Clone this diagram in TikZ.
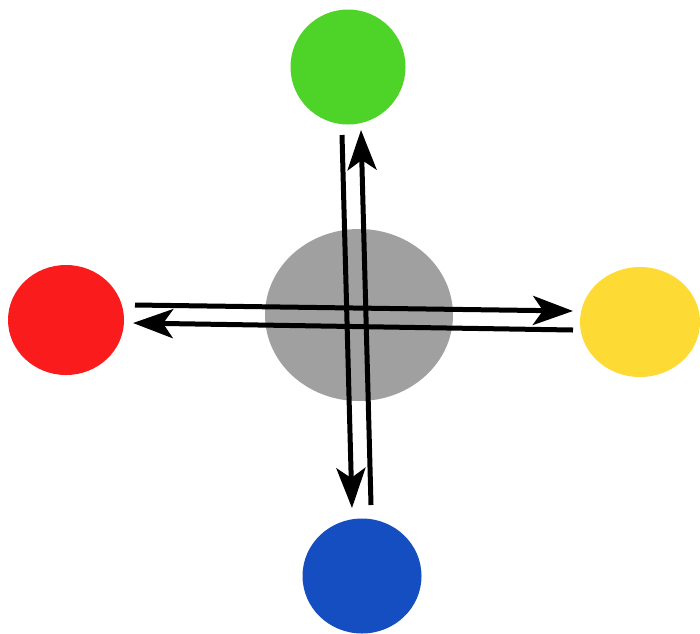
\documentclass[tikz,border=0pt]{standalone}
\usepackage{tikz}
\usetikzlibrary{arrows.meta,shapes.geometric}
\definecolor{ballgreen}{RGB}{78,212,40}
\definecolor{ballred}{RGB}{250,28,28}
\definecolor{ballyellow}{RGB}{254,218,52}
\definecolor{ballblue}{RGB}{20,78,192}
\definecolor{ballgray}{RGB}{160,160,160}
\begin{document}
\begin{tikzpicture}[x=1pt,y=-1pt,
    ball/.style={ellipse,draw=none,inner sep=0pt},
    flow/.style={line width=5pt,-{Stealth[length=40pt,width=29pt,inset=10pt]}}]
\useasboundingbox (0,0) rectangle (700,633);
\node[ball,fill=ballgray,minimum width=188pt,minimum height=172pt] (hub) at (359,315) {};
\node[ball,fill=ballgreen,minimum width=115pt,minimum height=115pt] (top) at (348,67) {};
\node[ball,fill=ballred,minimum width=116pt,minimum height=110pt] (left) at (66,320) {};
\node[ball,fill=ballyellow,minimum width=120pt,minimum height=110pt] (right) at (640,322) {};
\node[ball,fill=ballblue,minimum width=119pt,minimum height=115pt] (bottom) at (362,576) {};
% arrow ends
\coordinate (t1) at (342,135);
\coordinate (t2) at (361,130);
\coordinate (b1) at (352,508);
\coordinate (b2) at (371,505);
\coordinate (l1) at (135,305);
\coordinate (l2) at (133,323);
\coordinate (r1) at (573,311);
\coordinate (r2) at (573,330);
\draw[flow] (t1) -- (b1);
\draw[flow] (b2) -- (t2);
\draw[flow] (l1) -- (r1);
\draw[flow] (r2) -- (l2);
\end{tikzpicture}
\end{document}
